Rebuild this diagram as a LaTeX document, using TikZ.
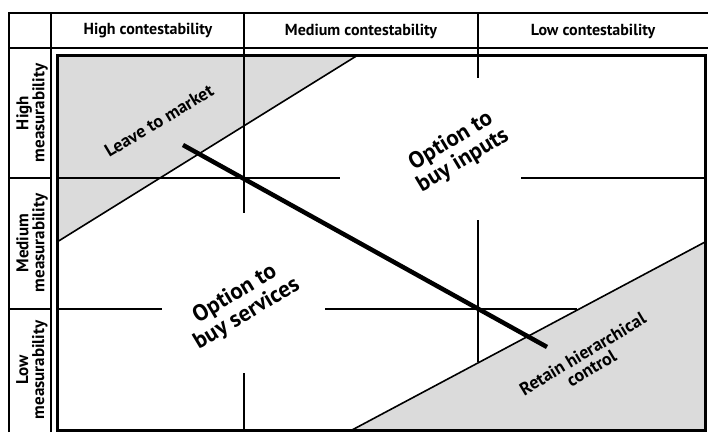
\documentclass[tikz,border=0pt]{standalone}
\usepackage{fontspec}
\setmainfont{PT Sans}
\begin{document}
\begin{tikzpicture}[x=1pt,y=-1pt,
  rule/.style={line width=1.4pt},
  gridline/.style={line width=1.3pt},
  zone/.style={fill=black!14,draw,line width=1.6pt},
  head/.style={font=\bfseries\fontsize{16}{17}\selectfont},
  side/.style={font=\bfseries\fontsize{17}{16}\selectfont,rotate=90,align=center},
  option/.style={font=\bfseries\fontsize{23}{23}\selectfont,rotate=31,align=center},
  corner/.style={font=\bfseries\fontsize{18}{17}\selectfont,rotate=31,align=center}]
  \useasboundingbox (0,0) rectangle (708,432);
  % shaded corners
  \draw[zone] (57,55) -- (358,55) -- (57,242) -- cycle;
  \draw[zone] (705,430) -- (352,430) -- (705,242) -- cycle;
  % table frame
  \draw[rule] (9,432) -- (9,13) -- (708,13);
  \draw[rule] (9,48) -- (708,48);
  \draw[rule] (51,13) -- (51,432);
  \draw[rule] (9,178) -- (51,178);
  \draw[rule] (9,309) -- (51,309);
  % grid inside the box
  \draw[gridline] (244,13) -- (244,213) (244,373) -- (244,430);
  \draw[gridline] (478,13) -- (478,78) (478,220) -- (478,362);
  \draw[gridline] (57,178) -- (340,178) (521,178) -- (705,178);
  \draw[gridline] (57,309) -- (162,309) (325,309) -- (577,309);
  % box
  \draw[line width=3pt] (57,55) rectangle (705,430);
  % trend line
  \coordinate (start) at (183,145);
  \coordinate (stop) at (547,347);
  \draw[line width=4.5pt] (start) -- (stop);
  % labels
  \node[head] (hdHigh) at (148,31) {High contestability};
  \node[head] (hdMed) at (361,31) {Medium contestability};
  \node[head] (hdLow) at (593,31) {Low contestability};
  \node[side] (sdHigh) at (32,113) {High\\measurability};
  \node[side] (sdMed) at (32,243) {Medium\\measurability};
  \node[side] (sdLow) at (32,370) {Low\\measurability};
  \node[corner] (market) at (159,121) {Leave to market};
  \node[option] (inputs) at (457,151) {Option to\\buy inputs};
  \node[option] (services) at (241,304) {Option to\\buy services};
  \node[corner] (control) at (587,361) {Retain hierarchical\\control};
\end{tikzpicture}
\end{document}
